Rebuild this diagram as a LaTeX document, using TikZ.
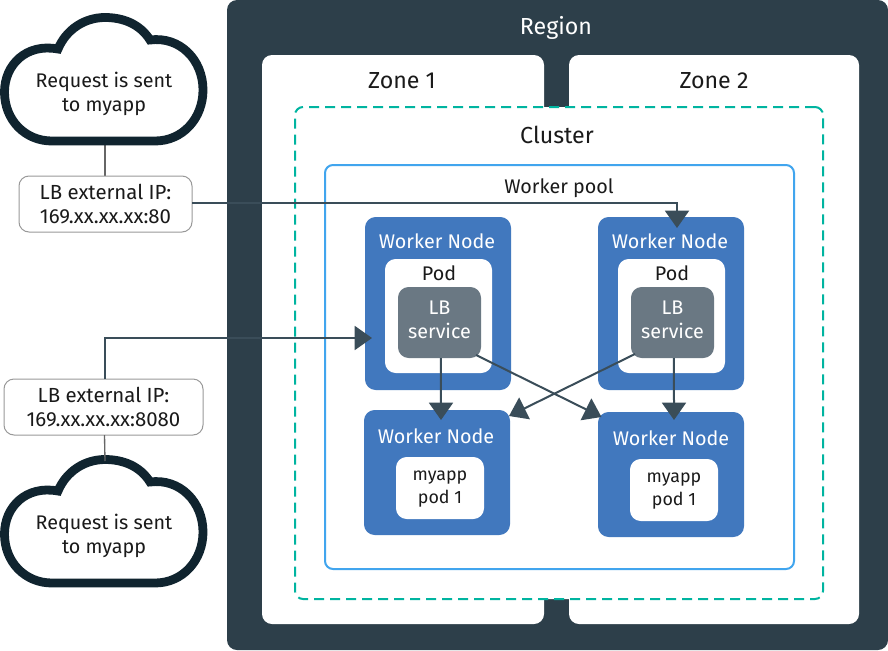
\documentclass[tikz,border=0pt]{standalone}
\usepackage{fontspec}
\setmainfont{Fira Sans}
\usetikzlibrary{arrows.meta}
\definecolor{regionc}{HTML}{2D3F4A}
\definecolor{cloudc}{HTML}{10242F}
\definecolor{arrowc}{HTML}{3A4D59}
\definecolor{greenc}{HTML}{00B4A0}
\definecolor{poolc}{HTML}{41A5EE}
\definecolor{wnc}{HTML}{4178BE}
\definecolor{svcc}{HTML}{6A7883}
\definecolor{inkc}{HTML}{1A1A1A}
\tikzset{
  bx/.style={rectangle,inner sep=0pt,outer sep=0pt,align=center},
  regionbox/.style={bx,fill=regionc,rounded corners=7.5pt},
  zonebox/.style={bx,fill=white,rounded corners=7.5pt},
  clusterbox/.style={bx,fill=white,draw=greenc,line width=1.5pt,dash pattern=on 7.5pt off 4.5pt,rounded corners=6pt},
  poolbox/.style={bx,fill=white,draw=poolc,line width=1.5pt,rounded corners=6pt},
  wnbox/.style={bx,fill=wnc,rounded corners=8pt},
  podbox/.style={bx,fill=white,rounded corners=8pt},
  svcbox/.style={bx,fill=svcc,rounded corners=8pt},
  ipbox/.style={bx,fill=white,draw=black!40,line width=0.75pt,rounded corners=7.5pt,text=inkc,font=\fontsize{15.3}{18}\selectfont},
  lbl/.style={inner sep=0pt,outer sep=0pt,align=center,text=inkc,font=\fontsize{14.8}{18}\selectfont},
  biglbl/.style={lbl,font=\fontsize{17.4}{20}\selectfont},
  whitelbl/.style={lbl,text=white},
  smalllbl/.style={lbl,font=\fontsize{13.4}{17.25}\selectfont},
  cloudline/.style={draw=cloudc,line width=6.6pt,fill=white,miter limit=10},
  stem/.style={draw=black!60,line width=1pt},
  conn/.style={draw=arrowc,line width=1.5pt},
  flow/.style={conn,-{Triangle[length=13pt,width=18pt]}},
}
\newcommand{\bxnode}[7]{\node[#1,minimum width={(#5-#3)*0.75pt},minimum height={(#6-#4)*0.75pt}] (#2) at ({(#3+#5)/2},{(#4+#6)/2}) {#7};}
\newcommand{\cloudpath}[1]{\path[cloudline,yshift=#1] (52,141) -- (155,141)
  .. controls (183,141) and (203,118) .. (203,90)
  .. controls (203,60) and (180,36) .. (150,40)
  .. controls (140,24) and (123,17.5) .. (105,17.5)
  .. controls (84,17.5) and (66,30) .. (58,49)
  .. controls (26,43) and (4.5,65) .. (4.5,92)
  .. controls (4.5,120) and (25,141) .. (52,141) -- cycle;}
\begin{document}
\begin{tikzpicture}[x=0.75pt,y=-0.75pt]
\useasboundingbox[fill=white] (0,0) rectangle (888,650);
% region and zones
\bxnode{regionbox}{region}{227}{0}{888}{650}{}
\bxnode{zonebox}{zonea}{262}{55}{544}{624}{}
\bxnode{zonebox}{zoneb}{569}{55}{859}{624}{}
\bxnode{clusterbox}{cluster}{295}{107}{823}{599}{}
\bxnode{poolbox}{pool}{325}{165}{794}{569}{}
\node[biglbl,text=white] (regiont) at (556,28) {Region};
\node[biglbl] (zoneat) at (402,81) {Zone 1};
\node[biglbl] (zonebt) at (714,81) {Zone 2};
\node[biglbl] (clustert) at (557,135) {Cluster};
\node[lbl] (poolt) at (559,188) {Worker pool};
% worker nodes
\bxnode{wnbox}{wna}{365}{217}{511}{390}{}
\bxnode{wnbox}{wnb}{598}{217}{744}{390}{}
\bxnode{wnbox}{wnc}{364}{410}{510}{535}{}
\bxnode{wnbox}{wnd}{598}{412}{744}{537}{}
\node[whitelbl] (wnat) at (437,241) {Worker Node};
\node[whitelbl] (wnbt) at (670,241) {Worker Node};
\node[whitelbl] (wnct) at (436,436) {Worker Node};
\node[whitelbl] (wndt) at (671,438) {Worker Node};
% pods
\bxnode{podbox}{poda}{385}{259}{492}{373}{}
\bxnode{podbox}{podb}{618}{259}{725}{373}{}
\node[lbl] (podat) at (439,273) {Pod};
\node[lbl] (podbt) at (672,273) {Pod};
\bxnode{svcbox}{svca}{398}{287}{481}{358}{}
\bxnode{svcbox}{svcb}{631}{287}{714}{358}{}
\node[whitelbl] (svcat) at (439.5,320) {LB\\service};
\node[whitelbl] (svcbt) at (672.5,320) {LB\\service};
\bxnode{podbox}{appa}{396}{457}{484}{519}{}
\bxnode{podbox}{appb}{630}{459}{718}{521}{}
\node[smalllbl] (appat) at (440,489) {myapp\\pod 1};
\node[smalllbl] (appbt) at (674,491) {myapp\\pod 1};
% clouds
\coordinate (cloudabot) at (105,141);
\coordinate (cloudbtop) at (105,461);
\draw[stem] (105,176) -- (cloudabot);
\cloudpath{0pt}
\cloudpath{-331.5pt}
\node[lbl] (clouda) at (104,94) {Request is sent\\to myapp};
\node[lbl] (cloudb) at (104,536) {Request is sent\\to myapp};
% IP boxes
\bxnode{ipbox}{ipa}{19}{176}{192}{232}{LB external IP:\\169.xx.xx.xx:80}
\bxnode{ipbox}{ipb}{4}{379}{203}{435}{LB external IP:\\169.xx.xx.xx:8080}
\draw[stem] ([xshift=0.75pt]ipb.south) -- (cloudbtop);
% connectors
\draw[flow] ([shift={(0,-1)}]ipa.east) -| ([shift={(6,11)}]wnb.north);
\draw[flow] ([xshift=1.1pt]ipb.north) |- ([shift={(7,34.5)}]wna.west);
\draw[flow] ([xshift=1.1pt]svca.south) -- ([shift={(4,10)}]wnc.north);
\draw[flow] ([xshift=1.1pt]svcb.south) -- ([shift={(3,8)}]wnd.north);
\draw[flow] ([shift={(-5,-3)}]svca.south east) -- ([shift={(3.5,5)}]wnd.north west);
\draw[flow] ([shift={(4,-4)}]svcb.south west) -- ([shift={(-1,6)}]wnc.north east);
\end{tikzpicture}
\end{document}
